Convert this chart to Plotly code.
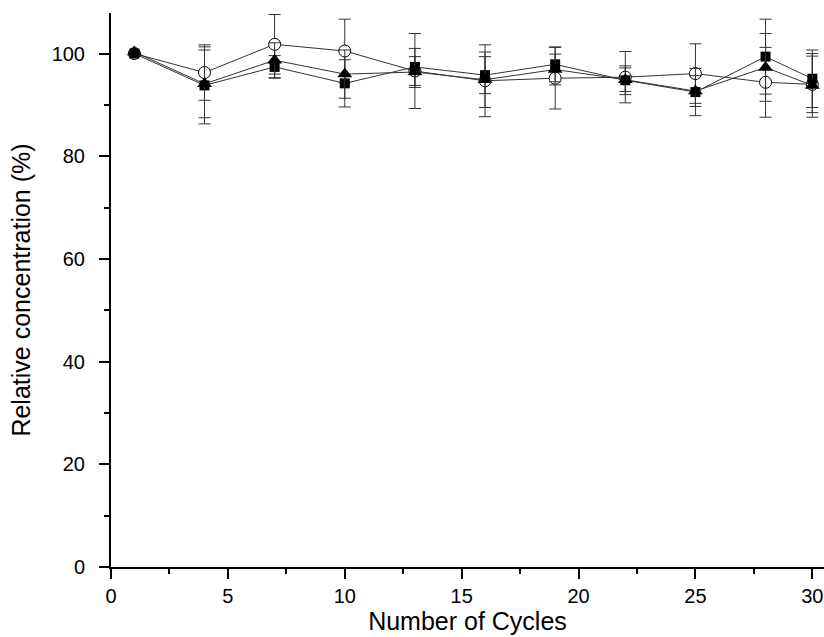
import plotly.graph_objects as go

cycles = [1, 4, 7, 10, 13, 16, 19, 22, 25, 28, 30]

circle_vals = [100.0, 96.3, 101.8, 100.5, 96.6, 94.7, 95.2, 95.4, 96.1, 94.4, 94.0]
circle_err = [0.0, 5.4, 5.8, 6.2, 7.3, 7.0, 6.0, 5.0, 5.8, 6.8, 5.5]

square_vals = [100.0, 93.8, 97.4, 94.2, 97.4, 95.8, 97.9, 94.8, 92.5, 99.4, 95.1]
square_err = [0.0, 7.5, 2.2, 4.6, 3.6, 3.6, 3.4, 2.8, 4.6, 7.3, 5.6]

triangle_vals = [100.3, 94.1, 98.7, 96.0, 96.4, 94.9, 96.9, 94.9, 92.7, 97.3, 93.8]
triangle_err = [0.0, 6.6, 3.4, 4.7, 3.0, 5.4, 3.0, 2.3, 3.0, 6.6, 6.2]

y_ticks = [0, 20, 40, 60, 80, 100]
x_ticks = [0, 5, 10, 15, 20, 25, 30]

fig = go.Figure()

series = [
    (circle_vals, circle_err, dict(symbol="circle", size=12, color="#ffffff", line=dict(width=1, color="#000000"))),
    (square_vals, square_err, dict(symbol="square", size=10, color="#000000")),
    (triangle_vals, triangle_err, dict(symbol="triangle-up", size=13, color="#000000")),
]

for vals, errs, mk in series:
    fig.add_trace(go.Scatter(
        x=cycles, y=vals, mode="lines+markers",
        line=dict(color="#333333", width=1),
        marker=mk,
        error_y=dict(type="data", array=errs, visible=True, color="#333333", thickness=1, width=6),
        showlegend=False, cliponaxis=False,
    ))

fam = "Liberation Sans, Arial, sans-serif"
tick_font = dict(family=fam, size=20, color="#000000")
title_font = dict(family=fam, size=25, color="#000000")

fig.update_layout(
    width=824, height=637,
    margin=dict(l=111, r=0, t=13, b=70),
    plot_bgcolor="white", paper_bgcolor="white",
    font=tick_font,
    xaxis=dict(
        range=[0, 30.5], tickvals=x_ticks, ticktext=[str(v) for v in x_ticks],
        ticks="outside", ticklen=10, tickwidth=1.5, tickcolor="#000000",
        minor=dict(dtick=2.5, tick0=0, ticks="outside", ticklen=5, tickwidth=1.5, tickcolor="#000000"),
        showline=True, linecolor="#000000", linewidth=2, showgrid=False, zeroline=False,
        title=dict(text="Number of Cycles", font=title_font, standoff=4),
        tickfont=tick_font, ticklabelstandoff=0,
    ),
    yaxis=dict(
        range=[0, 107.9], tickvals=y_ticks, ticktext=[str(v) for v in y_ticks],
        ticks="outside", ticklen=10, tickwidth=1.5, tickcolor="#000000",
        minor=dict(dtick=10, tick0=0, ticks="outside", ticklen=5, tickwidth=1.5, tickcolor="#000000"),
        showline=True, linecolor="#000000", linewidth=2, showgrid=False, zeroline=False,
        title=dict(text="Relative concentration (%)", font=title_font, standoff=14),
        tickfont=tick_font, ticklabelstandoff=10,
    ),
)

fig.write_html("out.html")
